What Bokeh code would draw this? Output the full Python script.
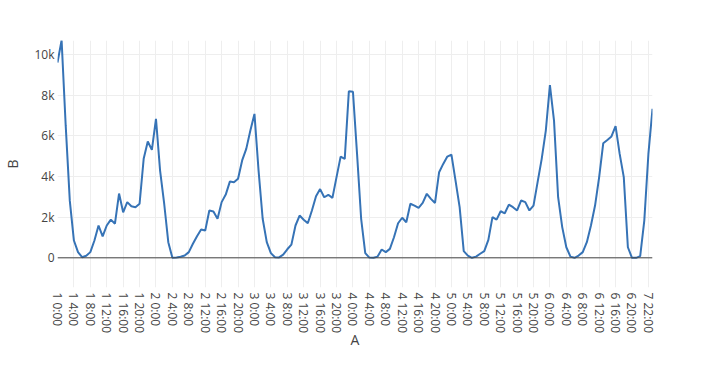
import math
from bokeh.plotting import figure
from bokeh.models import Range1d, FixedTicker, Span
from bokeh.embed import file_html
from bokeh.resources import INLINE

days = [1, 2, 3, 4, 5, 6]
hours = list(range(24))
categories = [f"{d} {h}:00" for d in days for h in hours] + ["7 22:00", "7 23:00"]

values = [
    # day 1
    9600, 10700, 6500, 2800, 850, 280, 30, 100, 280, 850, 1590, 1050,
    1590, 1880, 1680, 3160, 2240, 2740, 2540, 2490, 2660, 4870, 5720, 5310,
    # day 2
    6840, 4290, 2660, 770, 0, 20, 50, 110, 280, 690, 1060, 1390,
    1340, 2330, 2280, 1920, 2740, 3110, 3750, 3720, 3890, 4790, 5360, 6260,
    # day 3
    7080, 4290, 1920, 770, 230, 30, 20, 160, 420, 650, 1590, 2080,
    1870, 1700, 2330, 3030, 3380, 2980, 3100, 2950, 3970, 4980, 4870, 8190,
    # day 4
    8170, 5110, 1920, 230, 10, 0, 60, 410, 280, 440, 1010, 1700,
    1970, 1750, 2660, 2570, 2460, 2700, 3150, 2900, 2700, 4210, 4620, 4980,
    # day 5
    5080, 3800, 2490, 330, 110, 0, 60, 200, 330, 880, 2000, 1880,
    2290, 2190, 2620, 2490, 2330, 2820, 2740, 2330, 2570, 3720, 4870, 6260,
    # day 6
    8500, 6750, 2980, 1510, 520, 60, 0, 110, 280, 770, 1590, 2570,
    3970, 5640, 5800, 5970, 6480, 5110, 3970, 520, 0, 0, 80, 1830,
    # day 7
    5110, 7330,
]

y_ticks = [0, 2000, 4000, 6000, 8000, 10000]
y_tick_labels = ["0", "2k", "4k", "6k", "8k", "10k"]

FONT = "Open Sans"
TXT = "#444444"

p = figure(
    width=704, height=364,
    output_backend="svg", toolbar_location=None,
    x_range=Range1d(0, len(categories) - 1),
    y_range=Range1d(-1460, 10690),
    min_border_left=54, min_border_right=52,
    min_border_top=40, min_border_bottom=77,
)
p.outline_line_color = None
p.background_fill_color = "white"
p.border_fill_color = "white"

x = list(range(len(categories)))
p.line(x, values, line_color="#3673b6", line_width=2)

p.add_layout(Span(location=0, dimension="width", line_color=TXT, line_width=1))

tick_idx = list(range(0, len(categories), 4))
p.xaxis.ticker = FixedTicker(ticks=tick_idx)
p.xaxis.major_label_overrides = {i: categories[i] for i in tick_idx}
p.xaxis.major_label_orientation = -math.pi / 2

p.yaxis.ticker = FixedTicker(ticks=y_ticks)
p.yaxis.major_label_overrides = {t: l for t, l in zip(y_ticks, y_tick_labels)}

for ax in (p.xaxis, p.yaxis):
    ax.axis_line_color = None
    ax.major_tick_line_color = None
    ax.minor_tick_line_color = None
    ax.major_tick_out = 0
    ax.major_tick_in = 0
    ax.minor_tick_out = 0
    ax.minor_tick_in = 0
    ax.major_label_text_font = FONT
    ax.major_label_text_font_size = "12px"
    ax.major_label_text_color = TXT
    ax.axis_label_text_font = FONT
    ax.axis_label_text_font_size = "14px"
    ax.axis_label_text_color = TXT
    ax.axis_label_text_font_style = "normal"

p.xaxis.axis_label = "A"
p.yaxis.axis_label = "B"
p.xaxis.major_label_standoff = 5
p.xaxis.axis_label_standoff = -6
p.yaxis.major_label_standoff = 3
p.yaxis.axis_label_standoff = 9

p.xgrid.grid_line_color = "#eeeeee"
p.ygrid.grid_line_color = "#eeeeee"

open("out.html", "w").write(file_html(p, INLINE))
